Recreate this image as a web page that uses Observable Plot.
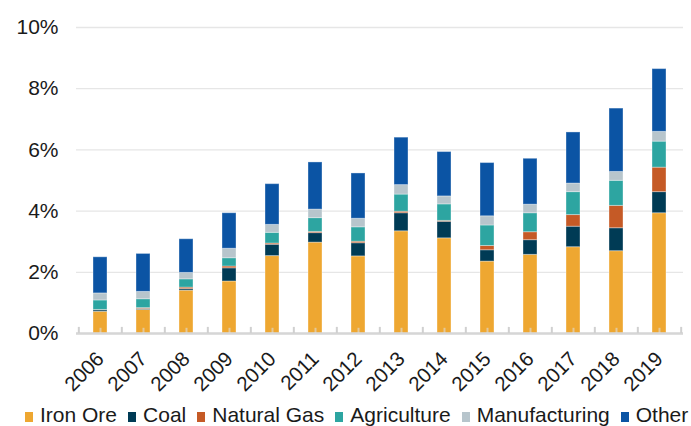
<!DOCTYPE html>
<html>
<head>
<meta charset="utf-8">
<script src="https://cdn.jsdelivr.net/npm/d3@7"></script>
<script src="https://cdn.jsdelivr.net/npm/@observablehq/plot@0.6"></script>
<style>
  html, body { margin: 0; padding: 0; background: #fff; }
  body { width: 691px; height: 426px; overflow: hidden; position: relative; font-family: "Liberation Sans", Arial, sans-serif; }
  #chart { position: absolute; left: 0; top: 0; }
  #legend { position: absolute; left: 25px; top: 404px; white-space: nowrap; font-size: 21px; line-height: 1; color: #1a1a1a; display: flex; align-items: baseline; }
  .item { display: inline-flex; align-items: baseline; margin-right: 11px; }
  .sw { display: inline-block; width: 8px; height: 10px; margin-right: 7px; }
</style>
</head>
<body>
<div id="chart"></div>
<div id="legend"></div>
<script>
const years = ["2006","2007","2008","2009","2010","2011","2012","2013","2014","2015","2016","2017","2018","2019"];
const seriesNames = ["Iron Ore","Coal","Natural Gas","Agriculture","Manufacturing","Other"];
const seriesColors = ["#EEA731","#003B55","#C55A26","#2DA5A1","#B7C5CC","#0B54A4"];
const ironOre      = [0.71,0.77,1.40,1.70,2.53,2.97,2.52,3.34,3.11,2.35,2.57,2.82,2.69,3.93];
const coal         = [0.05,0.03,0.05,0.43,0.37,0.31,0.43,0.59,0.54,0.37,0.48,0.67,0.75,0.69];
const naturalGas   = [0.01,0.03,0.05,0.06,0.04,0.04,0.05,0.05,0.03,0.14,0.26,0.38,0.73,0.80];
const agriculture  = [0.31,0.29,0.27,0.27,0.35,0.45,0.47,0.56,0.54,0.67,0.62,0.75,0.82,0.85];
const manufacturing= [0.23,0.24,0.21,0.31,0.26,0.28,0.28,0.31,0.26,0.30,0.28,0.28,0.29,0.32];
const other        = [1.18,1.24,1.10,1.16,1.33,1.54,1.48,1.55,1.45,1.74,1.50,1.67,2.07,2.05];
const yTicks = [0,2,4,6,8,10];

const seriesValues = [ironOre, coal, naturalGas, agriculture, manufacturing, other];
const data = [];
seriesNames.forEach((name, si) => {
  years.forEach((yr, i) => data.push({year: yr, series: name, value: seriesValues[si][i]}));
});

const W = 691, marginLeft = 76, marginRight = 8;
const step = (W - marginLeft - marginRight) / years.length;

const chart = Plot.plot({
  width: W,
  height: 398,
  marginLeft, marginRight,
  marginTop: 27,
  marginBottom: 65,
  style: { fontFamily: "'Liberation Sans', Arial, sans-serif", fontSize: "21px", color: "#1a1a1a", background: "#fff" },
  x: { domain: years, paddingInner: 0.677, paddingOuter: 0.3385, label: null },
  y: { domain: [0, 10], label: null },
  color: { domain: seriesNames, range: seriesColors },
  marks: [
    Plot.gridY(yTicks, { stroke: "#e6e6e6", strokeOpacity: 1, strokeWidth: 1.3 }),
    Plot.axisY(yTicks, { tickSize: 0, tickPadding: 18, tickFormat: d => d + "%", fontSize: 21, label: null }),
    Plot.barY(data, {
      x: "year", y: "value", fill: "series",
      order: seriesNames,
      stroke: "#ffffff", strokeOpacity: 0.35, strokeWidth: 1
    }),
    Plot.ruleY([0], { stroke: "#d6d6d6", strokeWidth: 2.5 }),
    Plot.ruleX(years, { x: d => d, y1: 0, y2: 0.2, dx: -step / 2, stroke: "#d0d0d0", strokeWidth: 2 }),
    Plot.ruleX(years.slice(-1), { x: d => d, y1: 0, y2: 0.2, dx: step / 2, stroke: "#d0d0d0", strokeWidth: 2 }),
    Plot.ruleX(years, { x: d => d, y1: 0, y2: 0.17, stroke: "#dddddd", strokeOpacity: 0.6, strokeWidth: 2 }),
    Plot.axisX({ tickSize: 0, tickRotate: -45, tickPadding: 22, fontSize: 20.5, label: null })
  ]
});
document.getElementById("chart").appendChild(chart);

const legend = document.getElementById("legend");
seriesNames.forEach((name, i) => {
  const item = document.createElement("span");
  item.className = "item";
  const sw = document.createElement("span");
  sw.className = "sw";
  sw.style.background = seriesColors[i];
  item.appendChild(sw);
  item.appendChild(document.createTextNode(name));
  legend.appendChild(item);
});
</script>
</body>
</html>
